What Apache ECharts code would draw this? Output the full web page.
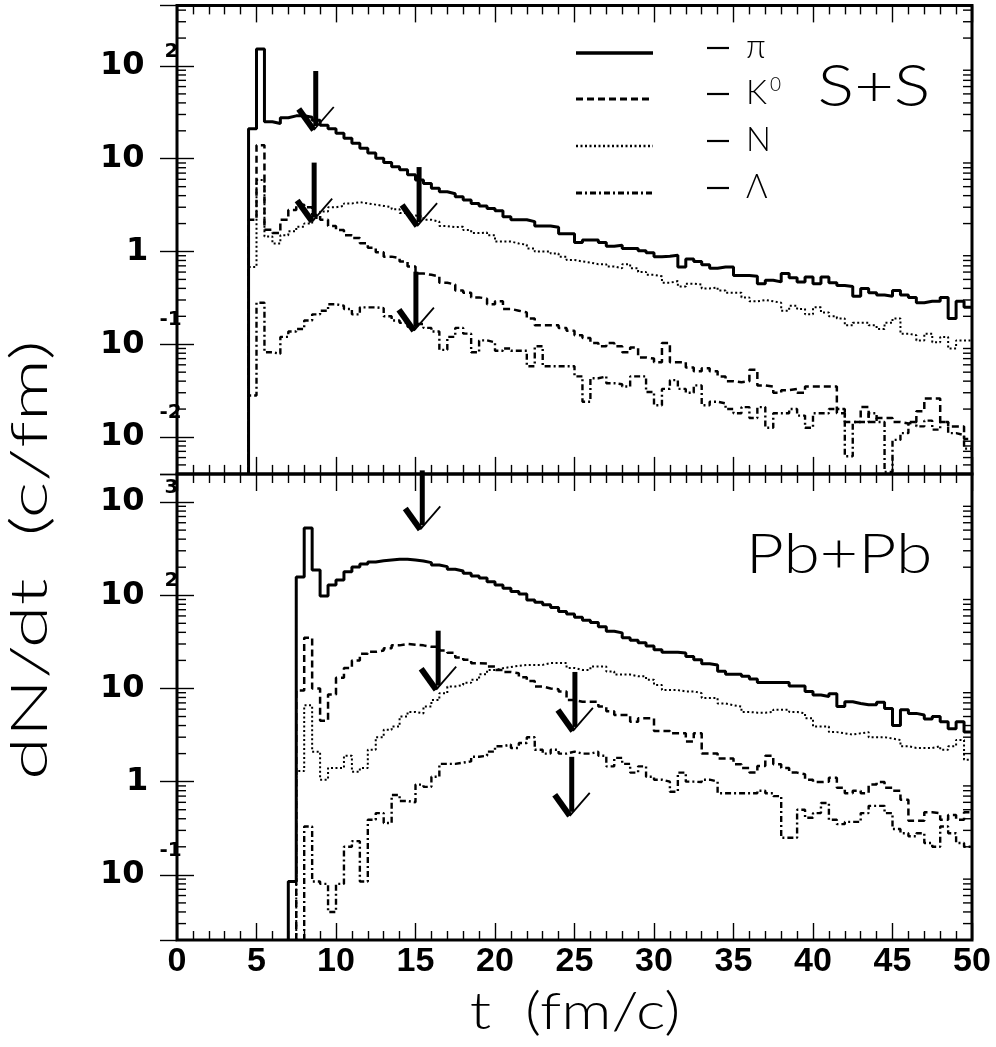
<!DOCTYPE html>
<html lang="en">
  <head>
    <meta charset="UTF-8" />
    <title>dN/dt</title>
    <script src="https://cdn.jsdelivr.net/npm/echarts@6/dist/echarts.min.js"></script>
    <style>
      html, body { margin: 0; padding: 0; background: #fff; }
    </style>
  </head>
  <body>
    <div id="main" style="width: 996px; height: 1047px"></div>
    <script type="text/javascript">
      // histogram bin width (fm/c)
      const binWidth = 0.5;

      // ---- S+S (top panel), first bin at t = 4.5 ----
      const ssStart = 4.5;
      const ssPi = [
        21, 152, 25, 24, 27.7, 29, 29, 28, 26, 23,
        21, 18.8, 16.6, 14.7, 13, 11.5, 10.1, 9.1, 8.2, 7.6,
        6.7, 5.9, 5.4, 4.8, 4.4, 4.2, 3.9, 3.6, 3.3, 3.1,
        2.9, 2.75, 2.37, 2.2, 2.2, 2.1, 1.88, 1.88, 1.83, 1.55,
        1.55, 1.25, 1.33, 1.33, 1.25, 1.14, 1.17, 1.08, 1.08, 1.02,
        0.97, 0.88, 0.89, 0.91, 0.68, 0.83, 0.78, 0.72, 0.66, 0.68,
        0.68, 0.55, 0.55, 0.54, 0.45, 0.49, 0.47, 0.58, 0.52, 0.47,
        0.53, 0.45, 0.53, 0.46, 0.43, 0.42, 0.33, 0.40, 0.36, 0.34,
        0.33, 0.38, 0.34, 0.32, 0.28, 0.29, 0.29, 0.32, 0.19, 0.29,
        0.25
      ];
      const ssK0 = [
        2.2, 14, 1.72, 1.58, 2.2, 2.8, 3.2, 3.0, 2.47, 2.2,
        1.88, 1.7, 1.5, 1.4, 1.23, 1.1, 0.98, 0.88, 0.85, 0.78,
        0.69, 0.58, 0.56, 0.54, 0.46, 0.44, 0.38, 0.36, 0.32, 0.31,
        0.27, 0.29, 0.24, 0.23, 0.22, 0.19, 0.16, 0.16, 0.16, 0.15,
        0.14, 0.125, 0.117, 0.103, 0.095, 0.103, 0.095, 0.082, 0.092, 0.072,
        0.070, 0.064, 0.103, 0.064, 0.064, 0.056, 0.051, 0.055, 0.051, 0.045,
        0.040, 0.039, 0.040, 0.053, 0.036, 0.035, 0.030, 0.032, 0.033, 0.030,
        0.035, 0.035, 0.035, 0.035, 0.018, 0.0145, 0.0145, 0.021, 0.0145, 0.016,
        0.016, 0.0145, 0.014, 0.0145, 0.019, 0.026, 0.026, 0.0145, 0.013, 0.013,
        0.0095
      ];
      const ssN = [
        0.68, 5.9, 1.45, 1.22, 1.5, 1.65, 1.85, 2.0, 2.3, 2.7,
        3.0, 3.1, 3.3, 3.4, 3.3, 3.2, 3.1, 3.0, 2.85, 2.6,
        2.45, 2.37, 2.2, 2.1, 1.88, 1.83, 1.85, 1.7, 1.58, 1.6,
        1.5, 1.28, 1.28, 1.22, 1.18, 1.08, 1.0, 1.0, 0.95, 0.88,
        0.81, 0.78, 0.76, 0.73, 0.73, 0.69, 0.66, 0.73, 0.66, 0.6,
        0.56, 0.54, 0.46, 0.48, 0.42, 0.45, 0.44, 0.4, 0.41, 0.38,
        0.36, 0.36, 0.32, 0.29, 0.3, 0.29, 0.28, 0.23, 0.26, 0.24,
        0.21, 0.25, 0.22, 0.2, 0.19, 0.16, 0.17, 0.17, 0.16, 0.146,
        0.17, 0.19, 0.13, 0.125, 0.11, 0.13, 0.105, 0.12, 0.09, 0.11,
        0.11
      ];
      const ssLambda = [
        0.028, 0.28, 0.082, 0.079, 0.12, 0.137, 0.146, 0.18, 0.21, 0.23,
        0.27, 0.26, 0.24, 0.21, 0.25, 0.25, 0.245, 0.2, 0.18, 0.17,
        0.154, 0.165, 0.15, 0.137, 0.087, 0.12, 0.15, 0.13, 0.082, 0.11,
        0.105, 0.085, 0.09, 0.085, 0.085, 0.058, 0.095, 0.058, 0.058, 0.058,
        0.058, 0.045, 0.024, 0.043, 0.045, 0.038, 0.037, 0.035, 0.045, 0.045,
        0.0305, 0.022, 0.033, 0.041, 0.033, 0.03, 0.036, 0.022, 0.024, 0.023,
        0.02, 0.018, 0.021, 0.016, 0.021, 0.0126, 0.018, 0.018, 0.020, 0.017,
        0.0126, 0.018, 0.018, 0.020, 0.020, 0.0062, 0.0145, 0.0145, 0.018, 0.0145,
        0.0042, 0.0093, 0.011, 0.0145, 0.013, 0.015, 0.012, 0.0145, 0.011, 0.0105,
        0.0075
      ];

      // ---- Pb+Pb (bottom panel) ----
      const pbPiStart = 7.0;
      const pbPi = [
        0.085, 157, 526, 187, 98, 129, 146, 179, 201, 217,
        228, 235, 239, 243, 243, 239, 233, 224, 211, 203,
        190, 182, 172, 161, 153, 140, 129, 119, 110, 103,
        89, 84, 79, 74, 67, 63, 58, 54, 51, 46,
        41, 39.5, 35, 33, 31, 28.6, 26, 24.4, 24.4, 24,
        22, 20.3, 18.4, 17.9, 15.3, 14.2, 14.2, 13.5, 12.6, 11.6,
        11.6, 11.6, 11.6, 10.6, 10.6, 9.3, 8.5, 8.2, 8.8, 6.4,
        7.2, 6.9, 6.7, 6.7, 7.1, 6.1, 4.0, 5.9, 5.4, 5.2,
        4.7, 5.0, 4.4, 3.7, 4.4, 3.4
      ];
      const pbStart = 7.5;
      const pbK0 = [
        9.5, 35, 10, 4.5, 8.6, 13, 16.6, 20, 23.5, 24.7,
        25.5, 27, 29, 30, 29.5, 29, 28, 28, 25.5, 24.2,
        21.5, 20.3, 18.6, 18.5, 17.2, 15.8, 15, 14.6, 13.2, 12,
        10.5, 10, 9.8, 9.3, 7.5, 7.2, 7.2, 7.2, 6.4, 5.7,
        5.2, 5.2, 4.4, 4.8, 4.8, 3.5, 3.5, 3.3, 3.3, 2.7,
        3.3, 2.0, 2.0, 1.77, 1.77, 1.54, 1.4, 1.25, 1.47, 1.9,
        1.54, 1.4, 1.25, 1.2, 1.05, 0.99, 1.0, 1.1, 0.86, 0.75,
        0.8, 0.75, 0.93, 0.99, 0.86, 0.8, 0.64, 0.38, 0.38, 0.47,
        0.46, 0.39, 0.44, 0.39, 0.47
      ];
      const pbN = [
        1.3, 6.6, 2.1, 1.05, 1.4, 1.4, 1.9, 1.28, 1.4, 2.2,
        3.0, 3.6, 3.9, 5.0, 5.6, 5.4, 6.4, 7.5, 8.9, 10.5,
        10.9, 11.5, 12.4, 14.2, 15.8, 16.5, 17, 17.5, 17.9, 17.9,
        17.9, 18.7, 18.7, 18.7, 16.6, 15.8, 15.8, 17.2, 17.2, 15.2,
        14.1, 14.1, 13.5, 13.5, 12.4, 10.9, 9.6, 9.6, 9.3, 9.3,
        8.9, 7.9, 7.9, 6.9, 6.6, 6.4, 5.6, 5.5, 5.5, 5.6,
        5.9, 5.9, 5.6, 5.4, 4.8, 3.9, 3.9, 3.4, 3.3, 3.2,
        3.3, 3.4, 3.0, 3.0, 2.9, 2.8, 2.4, 2.3, 2.3, 2.3,
        2.4, 2.2, 2.4, 2.8, 1.72
      ];
      const pbLambdaStart = 8.0;
      const pbLambda = [
        0.33, 0.085, 0.08, 0.04, 0.08, 0.2, 0.23, 0.085, 0.39,
        0.46, 0.36, 0.72, 0.62, 0.6, 0.93, 0.88, 1.13, 1.55, 1.55,
        1.6, 1.65, 1.85, 1.9, 2.1, 2.4, 2.5, 2.3, 2.6, 3.0,
        2.2, 2.0, 2.2, 2.0, 2.1, 2.0, 2.0, 2.1, 1.9, 1.46,
        1.8, 1.55, 1.25, 1.46, 1.13, 1.05, 1.0, 0.78, 1.25, 1.0,
        0.99, 1.05, 1.0, 0.75, 0.75, 0.75, 0.75, 0.75, 0.8, 0.75,
        0.7, 0.25, 0.25, 0.5, 0.41, 0.46, 0.59, 0.39, 0.35, 0.37,
        0.37, 0.46, 0.55, 0.55, 0.46, 0.31, 0.28, 0.26, 0.28, 0.22,
        0.2, 0.33, 0.28, 0.22, 0.2
      ];

      // arrows: [t, value at the arrow tip]
      const ssArrows = [[8.6, 20.4], [8.5, 2.1], [15.1, 1.88], [14.9, 0.14]];
      const pbArrows = [[15.3, 509], [16.3, 9.7], [24.9, 3.5], [24.7, 0.43]];

      // axis ranges
      const tRange = [0, 50];
      const ssRange = [0.004, 450];
      const pbRange = [0.02, 2000];

      // turn bin contents into step points; the line rises from the axis floor
      function hist(start, vals, floor) {
        const pts = [[start, floor]];
        vals.forEach((v, i) => pts.push([start + i * binWidth, v]));
        pts.push([start + vals.length * binWidth, vals[vals.length - 1]]);
        return pts;
      }

      // minor tick values 2..9 in every decade inside the range
      function minorTicks(range) {
        const out = [];
        for (let e = -4; e <= 4; e++) {
          for (let m = 2; m <= 9; m++) {
            const v = m * Math.pow(10, e);
            if (v > range[0] && v < range[1]) out.push([0, v]);
          }
        }
        return out;
      }

      const black = '#000';
      const styles = {
        pi: { color: black, width: 3, type: 'solid' },
        k0: { color: black, width: 2.5, type: [7, 4] },
        n: { color: black, width: 2, type: [2, 2.5] },
        lambda: { color: black, width: 2.4, type: [6, 3, 2, 3] }
      };

      function lineSeries(name, data, style, gi) {
        return {
          name: name,
          type: 'line',
          step: 'end',
          xAxisIndex: gi * 2,
          yAxisIndex: gi * 2,
          data: data,
          showSymbol: false,
          symbol: 'none',
          clip: true,
          lineStyle: style,
          z: 3
        };
      }

      function minorTickSeries(gi, range) {
        return {
          type: 'custom',
          xAxisIndex: gi * 2,
          yAxisIndex: gi * 2,
          silent: true,
          data: minorTicks(range),
          renderItem: function (params, api) {
            const v = api.value(1);
            const l = api.coord([tRange[0], v]);
            const r = api.coord([tRange[1], v]);
            return {
              type: 'group',
              children: [
                { type: 'line', shape: { x1: l[0], y1: l[1], x2: l[0] + 9, y2: l[1] }, style: { stroke: black, lineWidth: 1.4 } },
                { type: 'line', shape: { x1: r[0] - 9, y1: r[1], x2: r[0], y2: r[1] }, style: { stroke: black, lineWidth: 1.4 } }
              ]
            };
          }
        };
      }

      function arrowSeries(gi, arrows) {
        return {
          type: 'custom',
          xAxisIndex: gi * 2,
          yAxisIndex: gi * 2,
          silent: true,
          z: 10,
          data: arrows,
          renderItem: function (params, api) {
            const p = api.coord([api.value(0), api.value(1)]);
            const x = p[0], y = p[1];
            return {
              type: 'group',
              children: [
                { type: 'line', shape: { x1: x + 2, y1: y - 59, x2: x + 2, y2: y - 4 }, style: { stroke: black, lineWidth: 5 } },
                { type: 'line', shape: { x1: x - 15, y1: y - 21, x2: x, y2: y }, style: { stroke: black, lineWidth: 6 } },
                { type: 'line', shape: { x1: x, y1: y, x2: x + 20, y2: y - 23 }, style: { stroke: black, lineWidth: 1.8 } }
              ]
            };
          }
        };
      }

      // decade labels: 10^n with a raised exponent, "10" and "1" plain
      function decadeLabel(v) {
        const lg = Math.log10(v);
        const e = Math.round(lg);
        if (Math.abs(lg - e) > 1e-6) return '';
        if (e === 0) return '{p1|}{b|1}';
        if (e === 1) return '{b|10}';
        return '{b|10}{' + (e < 0 ? 'en' : 'e') + '|' + e + '}';
      }

      const supStyle = { fontFamily: 'DejaVu Sans', fontWeight: 'bold', fontSize: 20, lineHeight: 20, color: black };
      const labelRich = {
        b: { fontFamily: 'DejaVu Sans', fontWeight: 'bold', fontSize: 32, lineHeight: 30, color: black },
        e: Object.assign({ padding: [0, 0, 28, 20] }, supStyle),
        en: Object.assign({ padding: [0, 0, 48, 15] }, supStyle),
        p1: { width: 26, lineHeight: 30 }
      };

      function xAxis(gi, pos, labels) {
        return {
          type: 'value',
          gridIndex: gi,
          position: pos,
          min: tRange[0],
          max: tRange[1],
          interval: 5,
          axisLine: { show: false },
          splitLine: { show: false },
          axisTick: { inside: true, length: 17, lineStyle: { color: black, width: 1.4 } },
          minorTick: { show: true, splitNumber: 5, length: 9, lineStyle: { color: black, width: 1.4 } },
          axisLabel: {
            show: labels,
            margin: 5,
            color: black,
            fontFamily: 'Liberation Sans',
            fontWeight: 'bold',
            fontSize: 34
          }
        };
      }

      function yAxis(gi, pos, range, labels) {
        return {
          type: 'log',
          logBase: 10,
          gridIndex: gi,
          position: pos,
          min: range[0],
          max: range[1],
          axisLine: { show: false },
          splitLine: { show: false },
          axisTick: { inside: true, length: 17, lineStyle: { color: black, width: 1.4 } },
          axisLabel: {
            show: labels,
            margin: 77,
            align: 'left',
            showMinLabel: false,
            showMaxLabel: false,
            formatter: decadeLabel,
            rich: labelRich
          }
        };
      }

      const thin = 'Lato';
      const legendRows = [
        { y: 53, style: styles.pi, label: 'π' },
        { y: 99, style: styles.k0, label: 'K' },
        { y: 146, style: styles.n, label: 'N' },
        { y: 193, style: styles.lambda, label: 'Λ' }
      ];
      const graphics = [];
      legendRows.forEach(function (r) {
        graphics.push({
          type: 'line',
          shape: { x1: 576, y1: r.y, x2: 653, y2: r.y },
          style: { stroke: black, lineWidth: r.style.width + 0.5, lineDash: r.style.type === 'solid' ? null : r.style.type }
        });
        graphics.push({
          type: 'line',
          shape: { x1: 707, y1: r.y - 5, x2: 729, y2: r.y - 5 },
          style: { stroke: black, lineWidth: 2.2 }
        });
        graphics.push({
          type: 'text',
          x: 746,
          y: r.y - 6,
          style: { text: r.label, fill: black, font: '300 33px ' + thin, textAlign: 'left', textVerticalAlign: 'middle' }
        });
      });
      graphics.push({
        type: 'text', x: 770, y: 85,
        style: { text: '0', fill: black, font: '300 19px ' + thin, textAlign: 'left', textVerticalAlign: 'middle' }
      });
      graphics.push({
        type: 'text', x: 874, y: 88, scaleX: 1.2,
        style: { text: 'S+S', fill: black, font: '300 57px ' + thin, textAlign: 'center', textVerticalAlign: 'middle' }
      });
      graphics.push({
        type: 'text', x: 839, y: 555, scaleX: 1.2,
        style: { text: 'Pb+Pb', fill: black, font: '300 55px ' + thin, textAlign: 'center', textVerticalAlign: 'middle' }
      });
      graphics.push({
        type: 'text', x: 30, y: 560, rotation: Math.PI / 2, scaleX: 1.5,
        style: { text: 'dN/dt  (c/fm)', fill: black, font: '300 52px ' + thin, textAlign: 'center', textVerticalAlign: 'middle' }
      });
      graphics.push({
        type: 'text', x: 575, y: 1012, scaleX: 1.2,
        style: { text: 't  (fm/c)', fill: black, font: '300 52px ' + thin, textAlign: 'center', textVerticalAlign: 'middle' }
      });

      const option = {
        animation: false,
        backgroundColor: '#fff',
        grid: [
          { left: 177, top: 5.4, width: 795, height: 468.5, show: true, borderColor: black, borderWidth: 3, backgroundColor: 'transparent' },
          { left: 177, top: 474, width: 795, height: 466, show: true, borderColor: black, borderWidth: 3, backgroundColor: 'transparent' }
        ],
        xAxis: [
          xAxis(0, 'bottom', false),
          xAxis(0, 'top', false),
          xAxis(1, 'bottom', true),
          xAxis(1, 'top', false)
        ],
        yAxis: [
          yAxis(0, 'left', ssRange, true),
          yAxis(0, 'right', ssRange, false),
          yAxis(1, 'left', pbRange, true),
          yAxis(1, 'right', pbRange, false)
        ],
        series: [
          lineSeries('π S+S', hist(ssStart, ssPi, ssRange[0]), styles.pi, 0),
          lineSeries('K0 S+S', hist(ssStart, ssK0, ssRange[0]), styles.k0, 0),
          lineSeries('N S+S', hist(ssStart, ssN, ssRange[0]), styles.n, 0),
          lineSeries('Λ S+S', hist(ssStart, ssLambda, ssRange[0]), styles.lambda, 0),
          lineSeries('π Pb+Pb', hist(pbPiStart, pbPi, pbRange[0]), styles.pi, 1),
          lineSeries('K0 Pb+Pb', hist(pbStart, pbK0, pbRange[0]), styles.k0, 1),
          lineSeries('N Pb+Pb', hist(pbStart, pbN, pbRange[0]), styles.n, 1),
          lineSeries('Λ Pb+Pb', hist(pbLambdaStart, pbLambda, pbRange[0]), styles.lambda, 1),
          minorTickSeries(0, ssRange),
          minorTickSeries(1, pbRange),
          arrowSeries(0, ssArrows),
          arrowSeries(1, pbArrows)
        ],
        graphic: graphics
      };

      const myChart = echarts.init(document.getElementById('main'));
      myChart.setOption(option);
    </script>
  </body>
</html>
